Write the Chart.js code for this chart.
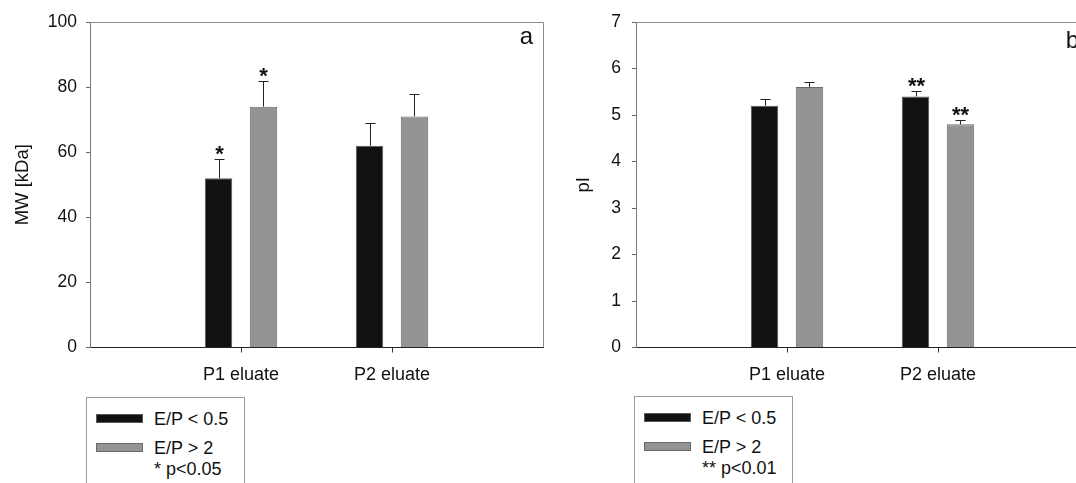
<!DOCTYPE html>
<html><head><meta charset="utf-8">
<script src="https://cdn.jsdelivr.net/npm/chart.js@4.4.0/dist/chart.umd.min.js"></script>
<style>
html,body{margin:0;padding:0;background:#fff;width:1076px;height:483px;overflow:hidden;position:relative;font-family:"Liberation Sans",Arial,sans-serif;}
.wrap{position:absolute;top:0;width:560px;height:400px;}
.legend{position:absolute;width:157px;height:100px;border:1px solid #9a9a9a;background:#fff;color:#111;font-size:18px;}
.sw{position:absolute;left:9px;width:45px;height:7px;}
.lt{position:absolute;left:67px;white-space:nowrap;line-height:20px;height:20px;}
</style></head>
<body>
<div class="wrap" style="left:0"><canvas id="cA" width="560" height="400"></canvas></div>
<div class="wrap" style="left:546px"><canvas id="cB" width="560" height="400"></canvas></div>
<div class="legend" id="legA" style="left:86px;top:397px"></div>
<div class="legend" id="legB" style="left:634px;top:396px"></div>
<script>
// ---- data ----
const categories = ['P1 eluate', 'P2 eluate'];
const seriesNames = ['E/P < 0.5', 'E/P > 2'];
const mwLow = [52, 62];
const mwLowErr = [6, 7];
const mwHigh = [74, 71];
const mwHighErr = [8, 7];
const mwLowSig = ['*', ''];
const mwHighSig = ['*', ''];
const piLow = [5.2, 5.4];
const piLowErr = [0.14, 0.12];
const piHigh = [5.6, 4.8];
const piHighErr = [0.12, 0.09];
const piLowSig = ['', '**'];
const piHighSig = ['', '**'];
const mwTicks = [0, 20, 40, 60, 80, 100];
const piTicks = [0, 1, 2, 3, 4, 5, 6, 7];
const notes = ['* p<0.05', '** p<0.01'];

const FAMILY = '"Liberation Sans", Arial, sans-serif';
const pad = a => [null, ...a, null];
const axisLabels = ['', ...categories, ''];

const errorBars = {
  id: 'errorBars',
  afterDatasetsDraw(chart) {
    const {ctx} = chart; const ys = chart.scales.y;
    chart.data.datasets.forEach((ds, di) => {
      const meta = chart.getDatasetMeta(di);
      meta.data.forEach((bar, i) => {
        const v = ds.data[i];
        if (v == null) return;
        const e = ds.errors[i];
        const x = Math.round(bar.x) + 0.5;
        const y0 = ys.getPixelForValue(v);
        const y1 = Math.round(ys.getPixelForValue(v + e)) + 0.5;
        ctx.save();
        ctx.strokeStyle = '#222'; ctx.lineWidth = 1;
        ctx.beginPath();
        ctx.moveTo(x, y0); ctx.lineTo(x, y1);
        ctx.moveTo(x - 5, y1); ctx.lineTo(x + 5, y1);
        ctx.stroke();
        const s = ds.sig[i];
        if (s) {
          ctx.fillStyle = '#111';
          ctx.font = 'bold 22px ' + FAMILY;
          ctx.textAlign = 'center'; ctx.textBaseline = 'alphabetic';
          ctx.fillText(s, x, y1 + 1);
        }
        ctx.restore();
      });
    });
  }
};

const frame = {
  id: 'frame',
  afterDraw(chart, args, opts) {
    const {ctx, chartArea: a} = chart;
    ctx.save();
    ctx.strokeStyle = '#8a8a8a'; ctx.lineWidth = 1;
    ctx.beginPath();
    ctx.moveTo(a.left, Math.round(a.top) + 0.5);
    ctx.lineTo(Math.round(a.right) + 0.5, Math.round(a.top) + 0.5);
    ctx.lineTo(Math.round(a.right) + 0.5, a.bottom);
    ctx.stroke();
    ctx.fillStyle = '#111';
    ctx.font = '24px ' + FAMILY;
    ctx.textAlign = 'right'; ctx.textBaseline = 'alphabetic';
    ctx.fillText(opts.text, a.right - opts.dx, a.top + opts.dy);
    ctx.restore();
  }
};

function makeChart(id, low, lowErr, lowSig, high, highErr, highSig, ticks, yMax, title, titlePad, tickPad, letter, letterDy) {
  return new Chart(document.getElementById(id), {
    type: 'bar',
    data: {
      labels: axisLabels,
      datasets: [
        {label: seriesNames[0], data: pad(low), errors: pad(lowErr), sig: pad(lowSig),
         backgroundColor: '#111111', borderColor: '#5a5a5a', borderWidth: 1},
        {label: seriesNames[1], data: pad(high), errors: pad(highErr), sig: pad(highSig),
         backgroundColor: '#949494', borderColor: '#6a6a6a', borderWidth: 1}
      ]
    },
    options: {
      responsive: false, animation: false, devicePixelRatio: 1,
      layout: {padding: {left: 0, right: 17, top: 22, bottom: 0}},
      datasets: {bar: {categoryPercentage: 0.596, barPercentage: 0.61}},
      plugins: {legend: {display: false}, tooltip: {enabled: false}, frame: {text: letter, dx: 10, dy: letterDy}},
      scales: {
        x: {
          type: 'category', offset: false,
          grid: {drawOnChartArea: false, offset: false, tickLength: 5, tickWidth: 1,
                 tickColor: c => (c.index === 0 || c.index === axisLabels.length - 1) ? 'rgba(0,0,0,0)' : '#333'},
          border: {color: '#222', width: 1},
          ticks: {font: {size: 18, family: FAMILY}, color: '#111', padding: 12, maxRotation: 0, autoSkip: false},
          afterFit: s => { s.height = 52.5; }
        },
        y: {
          min: 0, max: yMax,
          afterBuildTicks: s => { s.ticks = ticks.map(v => ({value: v})); },
          grid: {drawOnChartArea: false, tickLength: 4, tickColor: '#666'},
          border: {color: '#7a7a7a', width: 1},
          ticks: {font: {size: 17.5, family: FAMILY}, color: '#111', padding: tickPad},
          title: {display: true, text: title, font: {size: 18.5, family: FAMILY}, color: '#111', padding: {top: titlePad, bottom: 0}},
          afterFit: s => { s.width = 90; }
        }
      }
    },
    plugins: [errorBars, frame]
  });
}

function buildLegend(chart, el, note) {
  const rows = [21, 50];
  chart.data.datasets.forEach((ds, i) => {
    const sw = document.createElement('div');
    sw.className = 'sw';
    sw.style.top = (rows[i] - 5) + 'px';
    sw.style.background = ds.backgroundColor;
    sw.style.border = '1px solid ' + ds.borderColor;
    el.appendChild(sw);
    const t = document.createElement('div');
    t.className = 'lt';
    t.style.top = (rows[i] - 10) + 'px';
    t.textContent = ds.label;
    el.appendChild(t);
  });
  const n = document.createElement('div');
  n.className = 'lt';
  n.style.top = (71 - 10) + 'px';
  n.textContent = note;
  el.appendChild(n);
}

const chartA = makeChart('cA', mwLow, mwLowErr, mwLowSig, mwHigh, mwHighErr, mwHighSig, mwTicks, 100, 'MW [kDa]', 12, 9, 'a', 22);
const chartB = makeChart('cB', piLow, piLowErr, piLowSig, piHigh, piHighErr, piHighSig, piTicks, 7, 'pI', 27, 11, 'b', 26);
buildLegend(chartA, document.getElementById('legA'), notes[0]);
buildLegend(chartB, document.getElementById('legB'), notes[1]);
</script>
</body></html>
